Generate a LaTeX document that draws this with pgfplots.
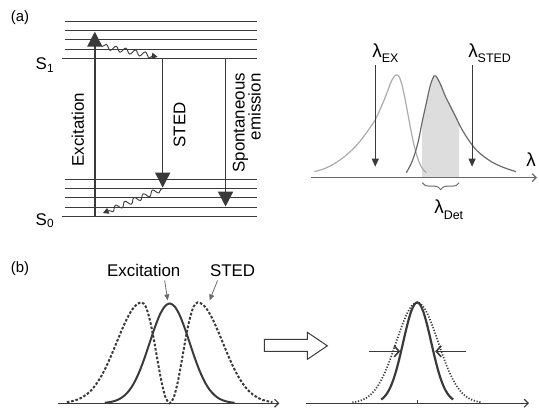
\documentclass[border=0pt]{standalone}
\usepackage{fontspec}
\setmainfont{Liberation Sans}
\usepackage{pgfplots}
\pgfplotsset{compat=1.18}
\usetikzlibrary{arrows.meta,decorations.pathreplacing,decorations.pathmorphing}

\definecolor{ink}{HTML}{3A3A3A}
\definecolor{txt}{HTML}{4A4A4A}
\definecolor{exspec}{HTML}{ABABAB}
\definecolor{emspec}{HTML}{6A6A6A}
\definecolor{shade}{HTML}{DDDDDD}

\newcommand{\fs}[1]{\fontsize{#1}{#1}\selectfont}

\begin{document}
\begin{tikzpicture}
\begin{axis}[
  width=539bp, height=407bp, scale only axis,
  xmin=0, xmax=539, ymin=0, ymax=407, y dir=reverse,
  hide axis, clip=false,
  every node/.style={txt},
]
% frame keeps the page at full size
\addplot[draw=none] coordinates {(0,0) (539,407)};

% ---------- (a) energy levels ----------
\addplot[ink, line width=1.1pt] coordinates {(65,21.7) (257,21.7)};
\addplot[ink, line width=1.1pt] coordinates {(65,31) (257,31)};
\addplot[ink, line width=1.1pt] coordinates {(65,40) (257,40)};
\addplot[ink, line width=1.1pt] coordinates {(65,49.3) (257,49.3)};
\addplot[ink, line width=1.1pt] coordinates {(62,58.7) (257,58.7)};
\addplot[ink, line width=1.1pt] coordinates {(65,180) (257,180)};
\addplot[ink, line width=1.1pt] coordinates {(65,189) (257,189)};
\addplot[ink, line width=1.1pt] coordinates {(65,198) (257,198)};
\addplot[ink, line width=1.1pt] coordinates {(65,207.5) (257,207.5)};
\addplot[ink, line width=1.1pt] coordinates {(62,216.7) (257,216.7)};

\addplot[ink, line width=1.4pt, -{Triangle[width=15pt,length=15pt]}] coordinates {(95,216.7) (95,31.7)};
\addplot[ink, line width=1.4pt, -{Triangle[width=15pt,length=15pt]}] coordinates {(163,58.7) (163,188)};
\addplot[ink, line width=1.4pt, -{Triangle[width=15pt,length=15pt]}] coordinates {(226,58.7) (226,207)};

\addplot[ink, line width=0.9pt, decorate,
  decoration={snake, amplitude=2.6pt, segment length=10pt, pre length=2pt, post length=5pt},
  -{Triangle[width=6pt,length=6pt]}] coordinates {(101,46) (158,57)};
\addplot[ink, line width=0.9pt, decorate,
  decoration={snake, amplitude=2.6pt, segment length=10pt, pre length=2pt, post length=5pt},
  -{Triangle[width=6pt,length=6pt]}] coordinates {(163,189) (103,213.5)};

\node[font=\fs{17}] at (axis cs:45,65) {S\textsubscript{1}};
\node[font=\fs{17}] at (axis cs:45,221) {S\textsubscript{0}};
\node[font=\fs{17}, rotate=90] at (axis cs:78,130) {Excitation};
\node[font=\fs{17}, rotate=90] at (axis cs:180,125) {STED};
\node[font=\fs{17}, rotate=90] at (axis cs:241,123) {Spontaneous};
\node[font=\fs{17}, rotate=90] at (axis cs:255,107) {emission};
\node[font=\fs{15}] at (axis cs:20,18) {(a)};

% ---------- (a) spectra ----------
\addplot[fill=shade, draw=none] coordinates {
  (423,178) (423,122) (427,104) (431,86) (435,76) (438,78) (442,86)
  (446,96) (451,106) (457,118) (460,124) (460,178)} --cycle;
\addplot[exspec, line width=1.2pt, smooth] coordinates {
  (315,172) (325,169) (335,164) (345,157) (355,148) (362,140) (370,129)
  (376,120) (382,107) (387,95) (391,84) (394,78) (397,75) (400,77)
  (403,86) (406,100) (409,116) (412,132) (415,146) (418,157) (421,165)
  (424,170) (427,173)};
\addplot[emspec, line width=1.2pt, smooth] coordinates {
  (407,173) (411,166) (415,156) (419,142) (423,122) (427,104) (431,86)
  (435,76) (438,78) (442,86) (446,96) (451,106) (457,118) (463,130)
  (470,141) (477,150) (485,157) (494,163) (505,168) (517,172)};
\addplot[emspec, line width=1.2pt, -{Straight Barb[length=4pt,width=8pt]}] coordinates {(312,178) (538,178)};
\addplot[ink, line width=1pt, -{Triangle[width=7pt,length=8pt]}] coordinates {(376,65) (376,167)};
\addplot[ink, line width=1pt, -{Triangle[width=7pt,length=8pt]}] coordinates {(473,65) (473,167)};
\addplot[emspec, line width=1pt, decorate, decoration={brace, mirror, amplitude=7pt}] coordinates {(423,183) (460,183)};

\node[anchor=base west, inner sep=0pt] at (axis cs:373,58) {\fs{19}λ\raisebox{-5bp}{\fs{12.5}EX}};
\node[anchor=base west, inner sep=0pt] at (axis cs:469,58) {\fs{19}λ\raisebox{-5bp}{\fs{12.5}STED}};
\node[anchor=base west, inner sep=0pt] at (axis cs:435,214) {\fs{19}λ\raisebox{-6bp}{\fs{12.5}Det}};
\node[font=\fs{19}] at (axis cs:532,160) {λ};

% ---------- (b) ----------
\node[font=\fs{15}] at (axis cs:20,269) {(b)};
\node[font=\fs{17}] at (axis cs:144,271) {Excitation};
\node[font=\fs{17}] at (axis cs:233,271) {STED};
\addplot[emspec, line width=0.8pt, -{Triangle[width=5pt,length=6pt]}] coordinates {(165,281) (168,301)};
\addplot[emspec, line width=0.8pt, -{Triangle[width=5pt,length=6pt]}] coordinates {(218,281) (210,301)};

\addplot[ink, line width=1.2pt, -{Straight Barb[length=4pt,width=8pt]}] coordinates {(58,404) (280,404)};
\addplot[ink, line width=1.2pt, -{Straight Barb[length=4pt,width=8pt]}] coordinates {(307,404) (530,404)};
\addplot[ink, line width=1pt] coordinates {(418,400.5) (418,404)};

% STED doughnut (dashed)
\addplot[ink, line width=2pt, dash pattern=on 2.6pt off 1.8pt, smooth] coordinates {
  (67,402.9) (72,402.0) (77,400.6) (82,398.3) (87,395.0) (92,390.4)
  (97,384.0) (102,375.9) (107,366.1) (112,354.8) (117,342.7) (122,330.7)
  (127,319.7) (132,310.8) (137,305.0) (142,303) (146,307.2) (150,319.9)
  (154,339.3) (158,362.0) (162,383.3) (166,398.5) (170,404) (174,398.5)
  (178,383.3) (182,362.0) (186,339.3) (190,319.9) (194,307.2) (198,303)
  (203,305.0) (208,310.8) (213,319.7) (218,330.7) (223,342.7) (228,354.8)
  (233,366.1) (238,375.9) (243,384.0) (248,390.4) (253,395.0) (258,398.3)
  (263,400.6) (268,402.0) (273,402.9)};
% excitation spot (solid)
\addplot[ink, line width=2pt, smooth] coordinates {
  (105,403.5) (110,402.9) (115,401.7) (120,399.6) (125,396.0) (130,390.5)
  (135,382.4) (140,371.5) (145,358.2) (150,343.3) (155,328.5) (160,315.7)
  (165,307.1) (170,304) (175,307.1) (180,315.7) (185,328.5) (190,343.3)
  (195,358.2) (200,371.5) (205,382.4) (210,390.5) (215,396.0) (220,399.6)
  (225,401.7) (230,402.9) (235,403.5)};

% block arrow
\addplot[ink, line width=1pt, fill=white] coordinates {
  (265,340) (308,340) (308,333) (328,346.5) (308,360) (308,352) (265,352)} --cycle;

% confocal spot (dotted)
\addplot[ink, line width=1.7pt, dash pattern=on 1.2pt off 1.7pt, smooth] coordinates {
  (353,403.2) (358,402.3) (363,400.7) (368,398.1) (373,393.8) (378,387.5)
  (383,378.8) (388,367.6) (393,354.3) (398,339.8) (403,325.7) (408,313.8)
  (413,305.8) (418,303) (423,305.8) (428,313.8) (433,325.7) (438,339.8)
  (443,354.3) (448,367.6) (453,378.8) (458,387.5) (463,393.8) (468,398.1)
  (473,400.7) (478,402.3) (483,403.2)};
% STED spot (solid, narrow)
\addplot[ink, line width=2.2pt, smooth] coordinates {
  (382,400.3) (385,397.7) (388,393.8) (391,388.3) (394,380.8) (397,371.2)
  (400,359.8) (403,347.1) (406,334.0) (409,321.9) (412,311.9) (415,305.3)
  (418,303) (421,305.3) (424,311.9) (427,321.9) (430,334.0) (433,347.1)
  (436,359.8) (439,371.2) (442,380.8) (445,388.3) (448,393.8) (451,397.7)
  (454,400.3)};
\addplot[ink, line width=1.6pt, -{Straight Barb[length=5pt,width=11pt]}] coordinates {(370,352) (401,352)};
\addplot[ink, line width=1.6pt, -{Straight Barb[length=5pt,width=11pt]}] coordinates {(467,352) (436,352)};
\end{axis}
\end{tikzpicture}
\end{document}
